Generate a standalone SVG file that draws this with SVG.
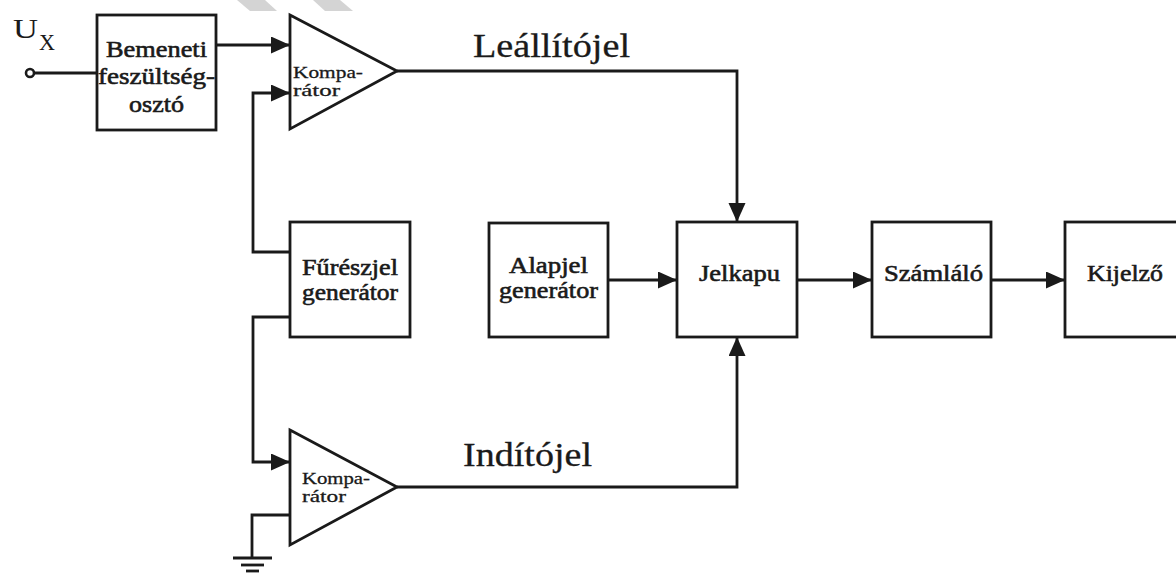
<svg xmlns="http://www.w3.org/2000/svg" width="1176" height="578" viewBox="0 0 1176 578">
<style>
.box{fill:#fff;stroke:#1a1a1a;stroke-width:2.8}
.wire{fill:none;stroke:#1a1a1a;stroke-width:2.8}
.t{font-family:"Liberation Serif","Times New Roman",serif;fill:#1a1a1a;text-anchor:middle}
.bl{font-size:23px;stroke:#1a1a1a;stroke-width:0.6}
.sm{font-size:17px;text-anchor:start;stroke:#1a1a1a;stroke-width:0.3}
.lab{font-size:34px;text-anchor:start;stroke:#1a1a1a;stroke-width:0.3}
</style>
<defs>
<marker id="ah" markerUnits="userSpaceOnUse" markerWidth="20" markerHeight="18" refX="19" refY="8.5" orient="auto">
<path d="M0,0 L19,8.5 L0,17 z" fill="#1a1a1a"/>
</marker>
</defs>
<rect width="1176" height="578" fill="#fff"/>
<g id="watermark" fill="#d4d4d4">
<polygon points="237,0 265,0 277,11 250,11"/>
<polygon points="313,0 340,0 353,11 325,11"/>
</g>
<g id="connectors">
<circle cx="30" cy="73" r="4" fill="#fff" stroke="#1a1a1a" stroke-width="2.6"/>
<line class="wire" x1="34" y1="73" x2="97" y2="73"/>
<line class="wire" x1="216" y1="45" x2="290" y2="45" marker-end="url(#ah)"/>
<polyline class="wire" points="290,252 253,252 253,93 290,93" marker-end="url(#ah)"/>
<polyline class="wire" points="290,317 253,317 253,462 290,462" marker-end="url(#ah)"/>
<polyline class="wire" points="290,515 252,515 252,558"/>
<line class="wire" x1="233" y1="558" x2="272" y2="558"/>
<line class="wire" x1="241" y1="565" x2="264" y2="565"/>
<line class="wire" x1="246" y1="571" x2="259" y2="571"/>
<polyline class="wire" points="397,71 737,71 737,222" marker-end="url(#ah)"/>
<polyline class="wire" points="397,487 737,487 737,337" marker-end="url(#ah)"/>
<line class="wire" x1="608" y1="280" x2="677" y2="280" marker-end="url(#ah)"/>
<line class="wire" x1="797" y1="280" x2="872" y2="280" marker-end="url(#ah)"/>
<line class="wire" x1="991" y1="280" x2="1065" y2="280" marker-end="url(#ah)"/>
</g>
<g id="ux">
<text class="t" x="13" y="38" style="font-size:28px;text-anchor:start" textLength="25" lengthAdjust="spacingAndGlyphs">U</text>
<text class="t" x="39" y="50" style="font-size:24px;text-anchor:start" textLength="16" lengthAdjust="spacingAndGlyphs">X</text>
</g>
<g id="bemeneti">
<rect class="box" x="97" y="15" width="119" height="115"/>
<text class="t bl" x="156.5" y="57" textLength="101" lengthAdjust="spacingAndGlyphs">Bemeneti</text>
<text class="t bl" x="156.5" y="84" textLength="117" lengthAdjust="spacingAndGlyphs">feszültség-</text>
<text class="t bl" x="156.5" y="112" textLength="55" lengthAdjust="spacingAndGlyphs">osztó</text>
</g>
<g id="komparator1">
<polygon class="box" points="290,15 397,71 290,129"/>
<text class="t sm" x="293" y="78" textLength="70" lengthAdjust="spacingAndGlyphs">Kompa-</text>
<text class="t sm" x="293" y="96" textLength="47" lengthAdjust="spacingAndGlyphs">rátor</text>
</g>
<g id="komparator2">
<polygon class="box" points="290,430 397,487 290,545"/>
<text class="t sm" x="302" y="484" textLength="68" lengthAdjust="spacingAndGlyphs">Kompa-</text>
<text class="t sm" x="302" y="502" textLength="44" lengthAdjust="spacingAndGlyphs">rátor</text>
</g>
<g id="fureszjel">
<rect class="box" x="290" y="222" width="120" height="115"/>
<text class="t bl" x="350" y="275" textLength="96" lengthAdjust="spacingAndGlyphs">Fűrészjel</text>
<text class="t bl" x="350" y="300" textLength="96" lengthAdjust="spacingAndGlyphs">generátor</text>
</g>
<g id="alapjel">
<rect class="box" x="489" y="223" width="119" height="114"/>
<text class="t bl" x="548.5" y="273" textLength="79" lengthAdjust="spacingAndGlyphs">Alapjel</text>
<text class="t bl" x="548.5" y="298" textLength="99" lengthAdjust="spacingAndGlyphs">generátor</text>
</g>
<g id="jelkapu">
<rect class="box" x="677" y="222" width="120" height="115"/>
<text class="t bl" x="739.5" y="281" textLength="81" lengthAdjust="spacingAndGlyphs">Jelkapu</text>
</g>
<g id="szamlalo">
<rect class="box" x="872" y="222" width="119" height="115"/>
<text class="t bl" x="933.5" y="281" textLength="99" lengthAdjust="spacingAndGlyphs">Számláló</text>
</g>
<g id="kijelzo">
<rect class="box" x="1065" y="222" width="130" height="115"/>
<text class="t bl" x="1125" y="281" textLength="76" lengthAdjust="spacingAndGlyphs">Kijelző</text>
</g>
<g id="labels">
<text class="t lab" x="473" y="57" textLength="157" lengthAdjust="spacingAndGlyphs">Leállítójel</text>
<text class="t lab" x="463" y="466" textLength="129" lengthAdjust="spacingAndGlyphs">Indítójel</text>
</g>
</svg>
